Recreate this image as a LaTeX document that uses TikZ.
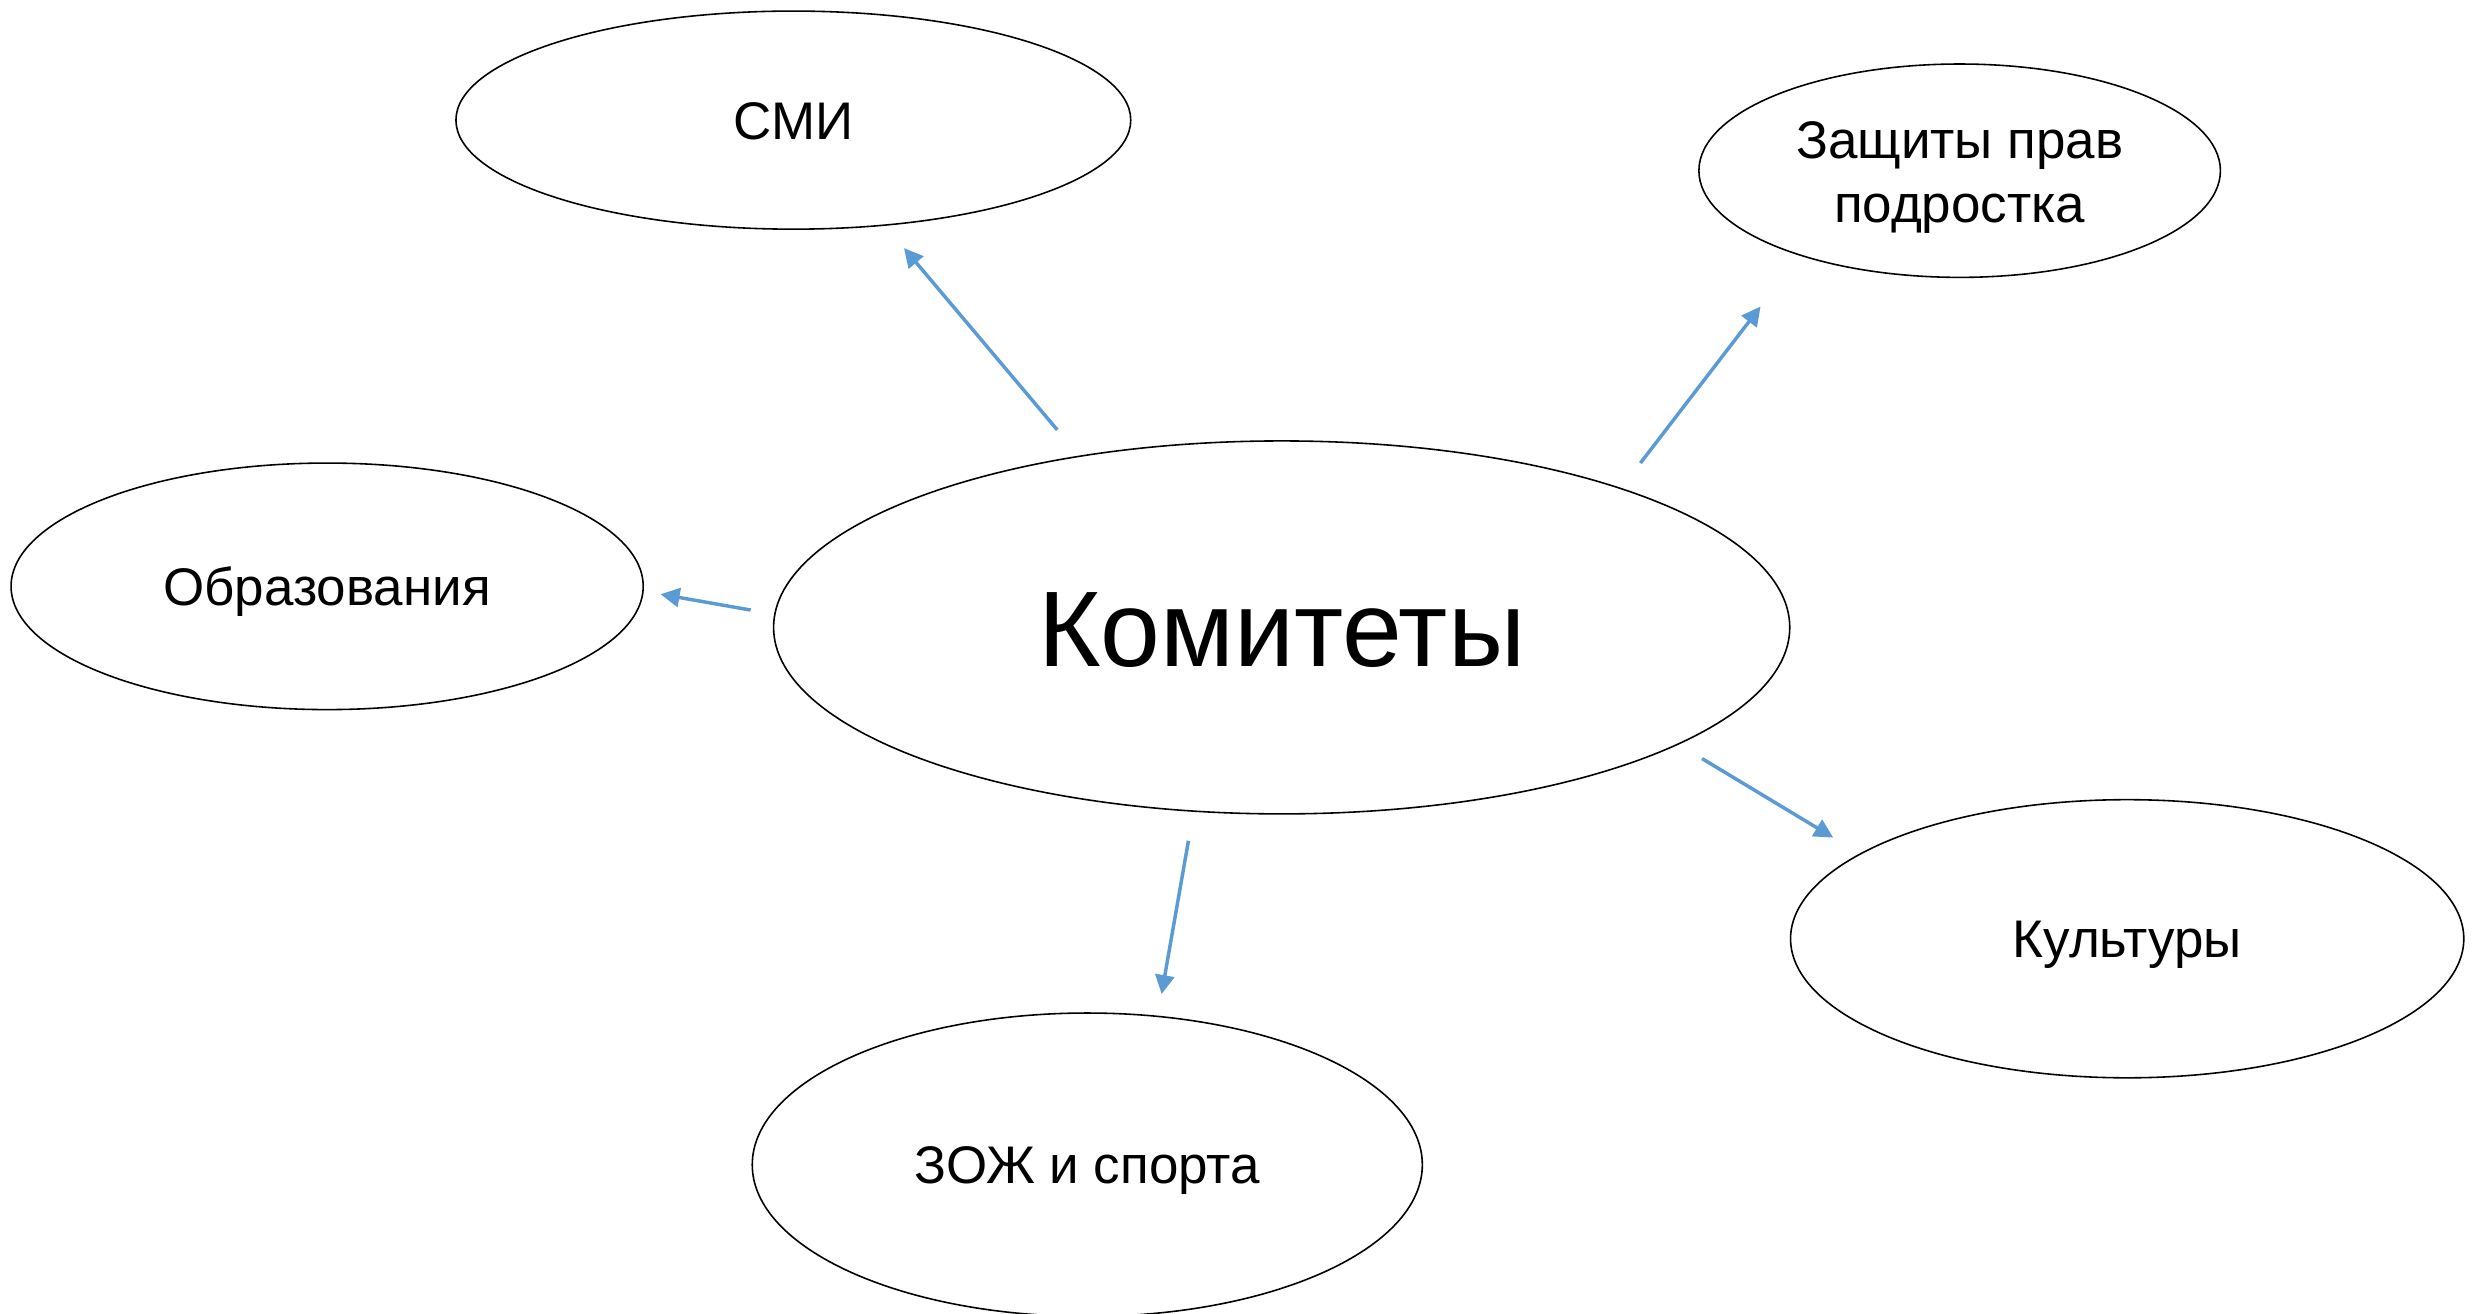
\documentclass[tikz,border=0pt]{standalone}
\usepackage{fontspec}
\setmainfont{Liberation Sans}
\usetikzlibrary{shapes.geometric,arrows.meta}
\definecolor{arrowblue}{HTML}{5B9BD5}
\tikzset{
  oval/.style={ellipse, draw=black, line width=1pt, inner sep=0pt, align=center,
    font=\fontsize{33.5}{42}\selectfont, text height=24pt, text depth=0pt},
  link/.style={draw=arrowblue, line width=2.2pt, -{Triangle[length=12pt,width=12pt]}}
}
\begin{document}
\begin{tikzpicture}[x=1pt,y=-1pt]
\useasboundingbox (0,0) rectangle (1568,831);
\node[oval, minimum width=427pt, minimum height=138pt] (smi) at (502,76) {СМИ};
\node[oval, minimum width=330pt, minimum height=135pt, text height=, text depth=] (zash) at (1240,108) {\rule{0pt}{32pt}Защиты прав\\[-1pt]подростка};
\node[oval, minimum width=400pt, minimum height=156pt] (obr) at (207,371) {Образования};
\node[oval, minimum width=643pt, minimum height=236pt, font=\fontsize{68}{80}\selectfont, text height=49pt] (kom) at (811,397) {Комитеты};
\node[oval, minimum width=426pt, minimum height=176pt] (kult) at (1346,594) {Культуры};
\node[oval, minimum width=424pt, minimum height=192pt] (zozh) at (688,737) {ЗОЖ и спорта};
\coordinate (a1s) at (669,272); \coordinate (a1e) at (572,157);
\coordinate (a2s) at (1038,293); \coordinate (a2e) at (1114,194);
\coordinate (a3s) at (475,386); \coordinate (a3e) at (418,376);
\coordinate (a4s) at (752,532); \coordinate (a4e) at (735,629);
\coordinate (a5s) at (1077,480); \coordinate (a5e) at (1160,530);
\draw[link] (a1s) -- (a1e);
\draw[link] (a2s) -- (a2e);
\draw[link] (a3s) -- (a3e);
\draw[link] (a4s) -- (a4e);
\draw[link] (a5s) -- (a5e);
\end{tikzpicture}
\end{document}
